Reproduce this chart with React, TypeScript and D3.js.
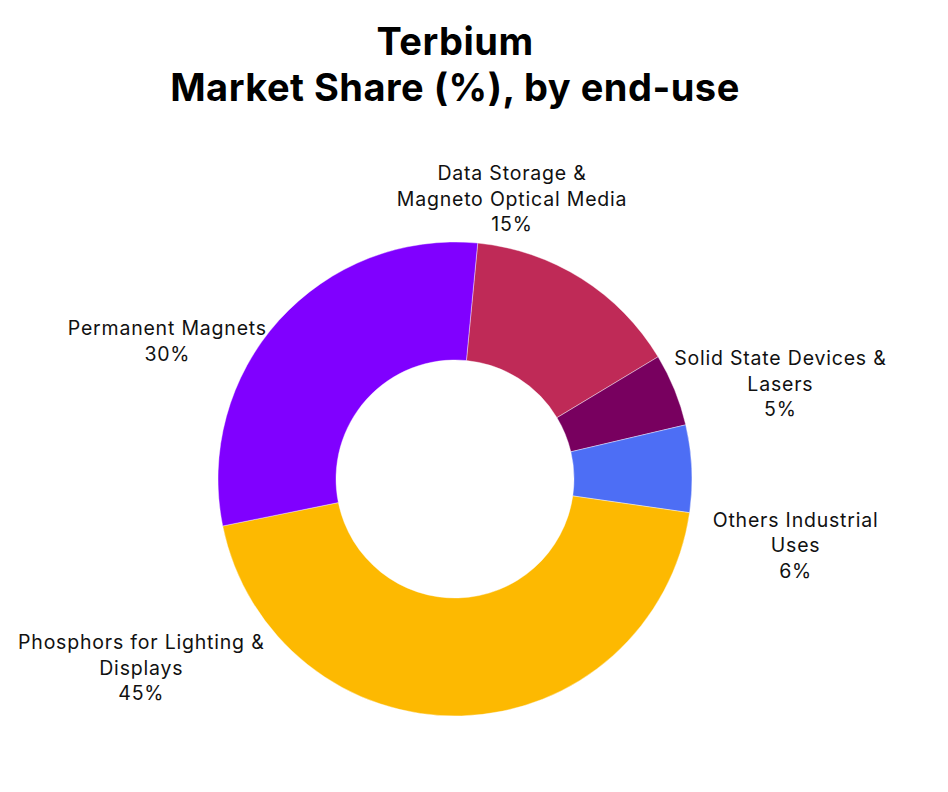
import React from 'react';
import * as d3 from 'd3';

const categories = [
  ['Data Storage &', 'Magneto Optical Media'],
  ['Solid State Devices &', 'Lasers'],
  ['Others Industrial', 'Uses'],
  ['Phosphors for Lighting &', 'Displays'],
  ['Permanent Magnets'],
];
const shares = [15, 5, 6, 45, 30];
const colors = ['#BF2A57', '#78005F', '#4D6EF5', '#FDB901', '#8000FF'];

// label block centres, polar (degrees clockwise from top, distance from centre)
const labelPolar: [number, number][] = [
  [11.5, 286],
  [73.7, 339],
  [101, 347],
  [239, 366],
  [295.6, 319],
];

const width = 948;
const height = 792;
const cx = 455;
const cy = 479;
const outerR = 237;
const innerR = 119;
const startOffset = (5.5 * Math.PI) / 180;
const lineH = 25.5;

const App: React.FC = () => {
  const pie = d3
    .pie<number>()
    .sort(null)
    .startAngle(startOffset)
    .endAngle(startOffset + 2 * Math.PI);
  const arcs = pie(shares);
  const arc = d3.arc<d3.PieArcDatum<number>>().innerRadius(innerR).outerRadius(outerR);

  return (
    <svg
      width={width}
      height={height}
      style={{ position: 'absolute', left: 0, top: 0, background: '#fff' }}
      fontFamily="Inter, 'Noto Sans', sans-serif"
    >
      <g textAnchor="middle" fontWeight={700} fontSize={38} fill="#000" letterSpacing={0.5}>
        <text x={cx} y={55}>Terbium</text>
        <text x={cx} y={101}>Market Share (%), by end-use</text>
      </g>
      <g transform={`translate(${cx},${cy})`}>
        {arcs.map((a, i) => (
          <path key={i} d={arc(a) || ''} fill={colors[i]} stroke="#fff" strokeWidth={0.4} />
        ))}
        {arcs.map((a, i) => {
          const [deg, r] = labelPolar[i];
          const rad = (deg * Math.PI) / 180;
          const x = Math.sin(rad) * r;
          const y = -Math.cos(rad) * r;
          const lines = [...categories[i], `${shares[i]}%`];
          const top = y - ((lines.length - 1) * lineH) / 2;
          return (
            <text
              key={i}
              textAnchor="middle"
              fontSize={19.5}
              letterSpacing={0.8}
              fill="#111"
              dominantBaseline="central"
            >
              {lines.map((l, j) => (
                <tspan key={j} x={x} y={top + j * lineH}>
                  {l}
                </tspan>
              ))}
            </text>
          );
        })}
      </g>
    </svg>
  );
};

export default App;
